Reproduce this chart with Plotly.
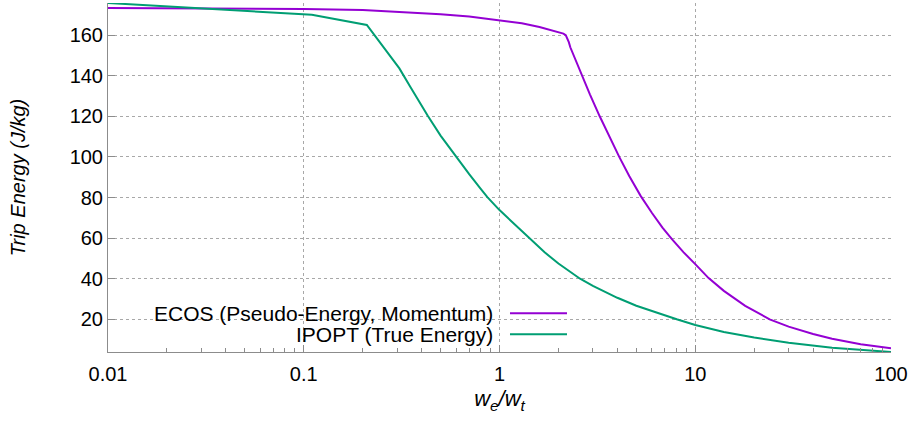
import plotly.graph_objects as go

# ECOS (Pseudo-Energy, Momentum)
ecos_x = [0.01, 0.02, 0.05, 0.1, 0.2, 0.3, 0.5, 0.7, 1.0, 1.3, 1.6, 1.9, 2.05, 2.12, 2.18, 2.22, 2.26,
          2.3, 2.45, 2.63, 2.9, 3.25, 3.6, 4.09, 4.6, 5.26, 6.0, 6.8, 7.58, 8.7, 10, 11.7, 14, 18, 24,
          30, 40, 50, 70, 100]
ecos_y = [173.3, 173.2, 173.1, 172.9, 172.4, 171.6, 170.3, 169.2, 167.4, 165.8, 164.0, 162.2, 161.2, 160.7, 160.0, 158.6, 156.5,
          154.0, 147.4, 140.0, 130.7, 120.0, 110.9, 100.0, 90.6, 80.8, 72.5, 65.2, 59.6, 53.1, 47.2, 40.3, 34.0, 26.6, 20.0,
          16.4, 12.8, 10.4, 7.7, 5.7]

# IPOPT (True Energy)
ipopt_x = [0.01, 0.03, 0.11, 0.21, 0.308, 0.35, 0.4, 0.43, 0.5, 0.6, 0.7, 0.8, 0.867, 1.0, 1.2, 1.43, 1.7,
           2.0, 2.3, 2.58, 3.0, 3.5, 4.0, 5.0, 6.5, 8.04, 10, 14, 20, 30, 50, 70, 100]
ipopt_y = [175.8, 173.2, 170.0, 165.0, 143.6, 134.6, 125.0, 120.3, 110.5, 100.0, 91.5, 84.4, 80.2, 73.8, 66.6, 59.8, 53.0,
           47.5, 43.3, 40.0, 36.5, 33.2, 30.6, 26.7, 22.8, 20.0, 17.2, 13.8, 11.0, 8.4, 6.0, 4.9, 3.9]

y_ticks = [20, 40, 60, 80, 100, 120, 140, 160]
x_ticks = [0.01, 0.1, 1, 10, 100]
x_tick_labels = ["0.01", "0.1", "1", "10", "100"]
x_minor_ticks = [m * 10.0 ** k for k in range(-2, 2) for m in range(2, 10)]

PURPLE = "#9400D3"
GREEN = "#009E73"
AXIS = "#8c8c8c"
GRID = "#a8a8a8"
FONT = "Liberation Sans"

fig = go.Figure()
fig.add_trace(go.Scatter(x=ecos_x, y=ecos_y, mode="lines", line=dict(color=PURPLE, width=2),
                         name="ECOS (Pseudo-Energy, Momentum)", showlegend=False))
fig.add_trace(go.Scatter(x=ipopt_x, y=ipopt_y, mode="lines", line=dict(color=GREEN, width=2),
                         name="IPOPT (True Energy)", showlegend=False))

# key area (covers grid like gnuplot's key box)
fig.add_shape(type="rect", xref="paper", yref="paper", x0=0.001, x1=0.6, y0=0.002, y1=0.15,
              fillcolor="white", line=dict(width=0), layer="below")

legend_rows = [("ECOS (Pseudo-Energy, Momentum)", PURPLE, 0.111),
               ("IPOPT (True Energy)", GREEN, 0.0507)]
for text, col, yy in legend_rows:
    fig.add_annotation(text=text, xref="paper", yref="paper", x=0.494, y=yy,
                       xanchor="right", yanchor="middle", showarrow=False,
                       font=dict(family=FONT, size=21, color="black"))
    fig.add_shape(type="line", xref="paper", yref="paper", x0=0.5134, x1=0.5862, y0=yy, y1=yy,
                  line=dict(color=col, width=2))

fig.update_layout(
    width=914, height=422,
    margin=dict(l=108, r=23, t=3, b=70),
    paper_bgcolor="white", plot_bgcolor="white",
    font=dict(family=FONT, size=20, color="black"),
    showlegend=False,
)
fig.update_xaxes(
    type="log", range=[-2, 2], automargin=False,
    tickvals=x_ticks, ticktext=x_tick_labels,
    showline=True, linecolor=AXIS, linewidth=1,
    ticks="inside", ticklen=7, tickcolor=AXIS, ticklabelstandoff=4,
    minor=dict(tickvals=x_minor_ticks, ticks="inside", ticklen=4, tickcolor=AXIS, showgrid=False),
    showgrid=True, gridcolor=GRID, griddash="dot", gridwidth=1,
    zeroline=False, mirror=False,
    title=dict(text="<i>w<sub>e</sub>/w<sub>t</sub></i>", font=dict(size=22), standoff=6),
)
fig.update_yaxes(
    range=[3.9, 175.8], automargin=False,
    tickvals=y_ticks,
    showline=True, linecolor=AXIS, linewidth=1,
    ticks="inside", ticklen=7, tickcolor=AXIS,
    showgrid=True, gridcolor=GRID, griddash="dot", gridwidth=1,
    zeroline=False, mirror=False,
    title=dict(text="<i>Trip Energy (J/kg)</i>", font=dict(size=20), standoff=38),
)

fig.write_html("out.html", config={"displayModeBar": False},
               post_script="document.body.style.margin='0px';")
